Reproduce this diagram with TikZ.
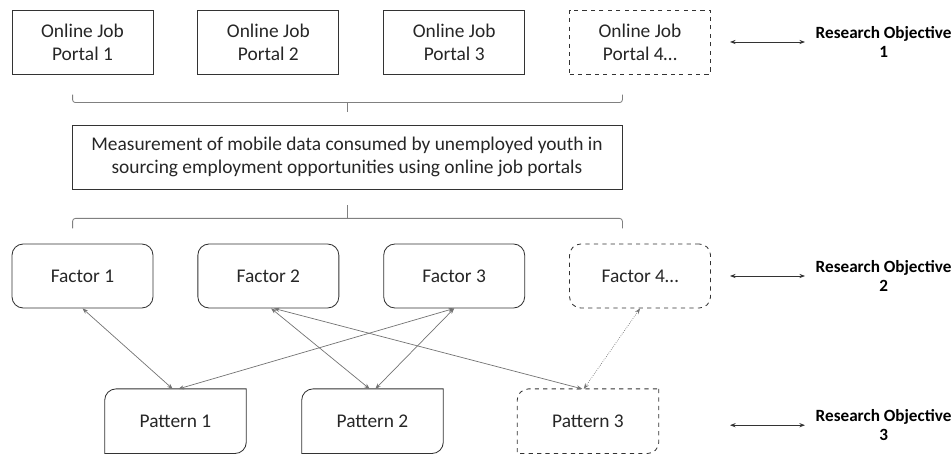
\documentclass[tikz,border=0pt]{standalone}
\usepackage{fontspec}
\setmainfont{Carlito}
\usetikzlibrary{arrows.meta, positioning, calc}

\begin{document}
\begin{tikzpicture}[
    portal/.style={rectangle, draw=black!80, line width=0.6pt, text=black!85,
                   minimum width=3.525cm, minimum height=1.6cm,
                   font=\fontsize{13.8}{16.2}\selectfont, align=center},
    factor/.style={portal, rounded corners=8pt},
    patternbox/.style={minimum width=3.525cm, minimum height=1.6cm, text=black!85,
                       font=\fontsize{13.8}{16.2}\selectfont},
    patline/.style={draw=black!80, line width=0.6pt},
    tbd/.style={dashed},
    link/.style={{Stealth[length=4pt,width=3pt]}-{Stealth[length=4pt,width=3pt]},
                 draw=black!55, line width=0.5pt},
    objarrow/.style={{Stealth[length=4pt,width=3pt]}-{Stealth[length=4pt,width=3pt]},
                     draw=black!80, line width=0.6pt},
    objective/.style={font=\fontsize{12.2}{13.5}\selectfont\bfseries, align=center, text=black},
    brace/.style={draw=black!50, line width=0.6pt, rounded corners=2pt},
    node distance=1.1cm
  ]
    \useasboundingbox (0,0) rectangle (23.775,-11.35);

    % job portals
    \node[portal] (portal1) at (2.0625,-1.05) {Online Job\\Portal 1};
    \node[portal, right=of portal1] (portal2) {Online Job\\Portal 2};
    \node[portal, right=of portal2] (portal3) {Online Job\\Portal 3};
    \node[portal, tbd, right=of portal3] (portal4) {Online Job\\Portal 4\dots};

    \node[portal, minimum width=13.75cm] (measure) at (8.675,-3.925)
      {Measurement of mobile data consumed by unemployed youth in\\sourcing employment opportunities using online job portals};

    % factors
    \node[factor] (factor1) at (2.0625,-6.9) {Factor 1};
    \node[factor, right=of factor1] (factor2) {Factor 2};
    \node[factor, right=of factor2] (factor3) {Factor 3};
    \node[factor, tbd, right=of factor3] (factor4) {Factor 4\dots};

    % patterns
    \node[patternbox] (pat1) at (4.3875,-10.53) {Pattern 1};
    \node[patternbox] (pat2) at (9.3125,-10.53) {Pattern 2};
    \node[patternbox] (pat3) at (14.7,-10.53) {Pattern 3};
    \foreach \p/\s in {pat1/solid, pat2/solid, pat3/tbd}
      \draw[patline, \s] (\p.north east) -- ([yshift=8pt]\p.south east) arc (0:-90:8pt)
        -- (\p.south west) -- ([yshift=-8pt]\p.north west) arc (180:90:8pt) -- cycle;

    % braces
    \coordinate (b1l) at ($(measure.north west)+(0.025,0.75)$);
    \coordinate (b1r) at ($(measure.north east)+(0,0.75)$);
    \coordinate (b1m) at ($(measure.north)+(0,0.325)$);
    \draw[brace] (b1l) -- ++(0,-0.2) -| (b1r);
    \draw[brace] (b1m) -- ++(0,0.225);
    \coordinate (b2l) at ($(measure.south west)+(0.025,-0.975)$);
    \coordinate (b2r) at ($(measure.south east)+(0,-0.975)$);
    \coordinate (b2m) at ($(measure.south)+(0,-0.4)$);
    \draw[brace] (b2l) -- ++(0,0.25) -| (b2r);
    \draw[brace] (b2m) -- ++(0,-0.325);

    % factor <-> pattern links
    \draw[link] (factor1.south) -- ([xshift=-2pt]pat1.north);
    \draw[link] (factor3.south) -- ([xshift=2pt]pat1.north);
    \draw[link] ([xshift=2pt]factor2.south) -- ([xshift=-2pt]pat2.north);
    \draw[link] (factor3.south) -- ([xshift=2pt]pat2.north);
    \draw[link] ([xshift=4pt]factor2.south) -- ([xshift=-4pt]pat3.north);
    \draw[link, densely dotted] (factor4.south) -- ([xshift=-3pt]pat3.north);

    % research objectives
    \node[objective] (obj1) at (22.09,-1.05) {Research Objective\\1};
    \node[objective] (obj2) at (22.09,-6.9) {Research Objective\\2};
    \node[objective] (obj3) at (22.09,-10.63) {Research Objective\\3};
    \foreach \i/\y in {1/-1.05, 2/-6.9, 3/-10.63} {
      \coordinate (o\i a) at (18.25,\y);
      \coordinate (o\i b) at (20.125,\y);
      \draw[objarrow] (o\i a) -- (o\i b);
    }
\end{tikzpicture}
\end{document}
